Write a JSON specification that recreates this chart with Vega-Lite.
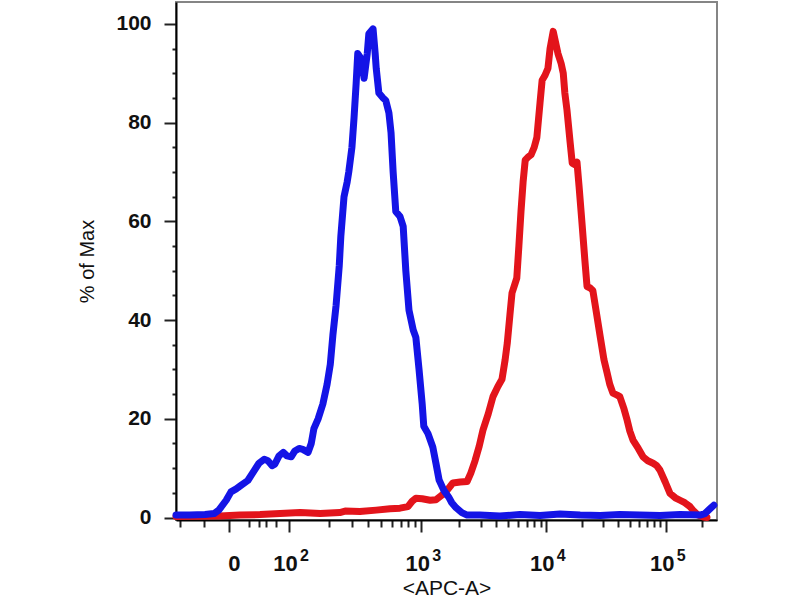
{
  "$schema": "https://vega.github.io/schema/vega-lite/v6.json",
  "width": 541,
  "height": 518,
  "autosize": {"type": "none"},
  "padding": {"left": 176, "top": 2, "right": 83, "bottom": 80},
  "background": "white",
  "config": {
    "view": {"stroke": "#858585", "strokeWidth": 2},
    "font": "Liberation Sans"
  },
  "resolve": {"axis": {"x": "independent"}},
  "datasets": {
    "red": [
      {"channel": 0, "pct": 0.2}, {"channel": 83, "pct": 0.3}, {"channel": 121, "pct": 0.5}, {"channel": 159, "pct": 0.6},
      {"channel": 197, "pct": 0.8}, {"channel": 235, "pct": 1.0}, {"channel": 273, "pct": 0.8}, {"channel": 310, "pct": 1.0},
      {"channel": 320, "pct": 1.3}, {"channel": 348, "pct": 1.2}, {"channel": 379, "pct": 1.5}, {"channel": 405, "pct": 1.8},
      {"channel": 424, "pct": 1.9}, {"channel": 439, "pct": 2.2}, {"channel": 447, "pct": 3.3}, {"channel": 454, "pct": 3.9},
      {"channel": 466, "pct": 3.8}, {"channel": 481, "pct": 3.5}, {"channel": 492, "pct": 3.6}, {"channel": 503, "pct": 4.5},
      {"channel": 513, "pct": 5.5}, {"channel": 524, "pct": 7.0}, {"channel": 538, "pct": 7.2}, {"channel": 551, "pct": 7.3},
      {"channel": 558, "pct": 9.0}, {"channel": 566, "pct": 11.5}, {"channel": 574, "pct": 14.5}, {"channel": 581, "pct": 17.7},
      {"channel": 591, "pct": 21.0}, {"channel": 600, "pct": 24.5}, {"channel": 609, "pct": 26.5}, {"channel": 617, "pct": 28.0},
      {"channel": 623, "pct": 32.0}, {"channel": 627, "pct": 35.3}, {"channel": 632, "pct": 41.0}, {"channel": 636, "pct": 45.5},
      {"channel": 642, "pct": 47.5}, {"channel": 645, "pct": 48.5}, {"channel": 649, "pct": 55.0}, {"channel": 653, "pct": 62.0},
      {"channel": 657, "pct": 68.0}, {"channel": 661, "pct": 72.4}, {"channel": 666, "pct": 73.0}, {"channel": 672, "pct": 73.5},
      {"channel": 678, "pct": 75.0}, {"channel": 683, "pct": 77.0}, {"channel": 689, "pct": 84.0}, {"channel": 693, "pct": 88.6},
      {"channel": 698, "pct": 89.5}, {"channel": 704, "pct": 91.0}, {"channel": 708, "pct": 95.0}, {"channel": 714, "pct": 98.5},
      {"channel": 719, "pct": 96.0}, {"channel": 723, "pct": 94.0}, {"channel": 729, "pct": 92.0}, {"channel": 733, "pct": 90.0},
      {"channel": 736, "pct": 86.0}, {"channel": 740, "pct": 82.6}, {"channel": 746, "pct": 76.0}, {"channel": 750, "pct": 71.8},
      {"channel": 755, "pct": 71.5}, {"channel": 759, "pct": 72.0}, {"channel": 763, "pct": 67.0}, {"channel": 768, "pct": 60.3},
      {"channel": 774, "pct": 52.0}, {"channel": 778, "pct": 46.8}, {"channel": 784, "pct": 46.5}, {"channel": 789, "pct": 46.0},
      {"channel": 795, "pct": 42.0}, {"channel": 803, "pct": 36.6}, {"channel": 810, "pct": 32.0}, {"channel": 816, "pct": 29.3},
      {"channel": 821, "pct": 27.0}, {"channel": 827, "pct": 25.2}, {"channel": 835, "pct": 24.8}, {"channel": 840, "pct": 24.5},
      {"channel": 848, "pct": 22.0}, {"channel": 854, "pct": 19.7}, {"channel": 859, "pct": 17.5}, {"channel": 865, "pct": 15.7},
      {"channel": 875, "pct": 14.0}, {"channel": 884, "pct": 12.3}, {"channel": 893, "pct": 11.5}, {"channel": 903, "pct": 11.0},
      {"channel": 910, "pct": 10.5}, {"channel": 916, "pct": 9.6}, {"channel": 926, "pct": 7.2}, {"channel": 935, "pct": 4.9},
      {"channel": 945, "pct": 4.0}, {"channel": 954, "pct": 3.5}, {"channel": 963, "pct": 3.0}, {"channel": 973, "pct": 2.2},
      {"channel": 980, "pct": 1.3}, {"channel": 988, "pct": 0.5}, {"channel": 998, "pct": 0.1}, {"channel": 1005, "pct": 0.0}
    ],
    "blue": [
      {"channel": 0, "pct": 0.5}, {"channel": 26, "pct": 0.5}, {"channel": 55, "pct": 0.6}, {"channel": 72, "pct": 0.8},
      {"channel": 81, "pct": 1.5}, {"channel": 95, "pct": 3.5}, {"channel": 104, "pct": 5.2}, {"channel": 114, "pct": 5.8},
      {"channel": 123, "pct": 6.5}, {"channel": 136, "pct": 7.5}, {"channel": 148, "pct": 9.5}, {"channel": 157, "pct": 11.0},
      {"channel": 167, "pct": 11.8}, {"channel": 174, "pct": 11.5}, {"channel": 182, "pct": 10.5}, {"channel": 187, "pct": 10.8},
      {"channel": 195, "pct": 12.5}, {"channel": 203, "pct": 13.2}, {"channel": 210, "pct": 12.5}, {"channel": 218, "pct": 12.3},
      {"channel": 225, "pct": 13.5}, {"channel": 233, "pct": 14.0}, {"channel": 240, "pct": 13.8}, {"channel": 250, "pct": 13.2},
      {"channel": 256, "pct": 15.0}, {"channel": 261, "pct": 18.0}, {"channel": 269, "pct": 20.0}, {"channel": 278, "pct": 23.0},
      {"channel": 286, "pct": 27.0}, {"channel": 292, "pct": 31.0}, {"channel": 297, "pct": 37.0}, {"channel": 303, "pct": 43.0},
      {"channel": 309, "pct": 51.0}, {"channel": 312, "pct": 57.0}, {"channel": 318, "pct": 65.0}, {"channel": 324, "pct": 68.0},
      {"channel": 327, "pct": 70.0}, {"channel": 333, "pct": 75.0}, {"channel": 337, "pct": 81.0}, {"channel": 341, "pct": 88.0},
      {"channel": 344, "pct": 94.0}, {"channel": 350, "pct": 93.0}, {"channel": 356, "pct": 89.0}, {"channel": 362, "pct": 94.0},
      {"channel": 365, "pct": 98.0}, {"channel": 373, "pct": 99.0}, {"channel": 377, "pct": 94.0}, {"channel": 379, "pct": 91.0},
      {"channel": 384, "pct": 86.0}, {"channel": 392, "pct": 85.0}, {"channel": 397, "pct": 84.5}, {"channel": 403, "pct": 82.0},
      {"channel": 407, "pct": 78.0}, {"channel": 411, "pct": 70.0}, {"channel": 416, "pct": 62.0}, {"channel": 424, "pct": 61.0},
      {"channel": 430, "pct": 59.0}, {"channel": 435, "pct": 50.0}, {"channel": 441, "pct": 42.0}, {"channel": 449, "pct": 38.0},
      {"channel": 454, "pct": 36.5}, {"channel": 460, "pct": 30.0}, {"channel": 466, "pct": 23.0}, {"channel": 469, "pct": 18.5},
      {"channel": 477, "pct": 17.0}, {"channel": 486, "pct": 14.3}, {"channel": 492, "pct": 11.0}, {"channel": 498, "pct": 7.6},
      {"channel": 507, "pct": 5.5}, {"channel": 517, "pct": 4.0}, {"channel": 522, "pct": 3.0}, {"channel": 530, "pct": 2.0},
      {"channel": 541, "pct": 1.0}, {"channel": 551, "pct": 0.5}, {"channel": 575, "pct": 0.5}, {"channel": 613, "pct": 0.3},
      {"channel": 651, "pct": 0.6}, {"channel": 689, "pct": 0.4}, {"channel": 727, "pct": 0.7}, {"channel": 765, "pct": 0.5},
      {"channel": 803, "pct": 0.4}, {"channel": 840, "pct": 0.6}, {"channel": 878, "pct": 0.5}, {"channel": 916, "pct": 0.4},
      {"channel": 954, "pct": 0.6}, {"channel": 992, "pct": 0.5}, {"channel": 1001, "pct": 0.8}, {"channel": 1011, "pct": 1.8},
      {"channel": 1018, "pct": 2.5}
    ]
  },
  "encoding": {
    "y": {
      "field": "pct",
      "type": "quantitative",
      "scale": {"domain": [-0.5, 104.45], "nice": false, "zero": false},
      "axis": {
        "title": "% of Max",
        "titleFont": "Liberation Sans",
        "titleFontSize": 20,
        "titleFontWeight": "normal",
        "titleColor": "#111",
        "titlePadding": 18,
        "values": [0, 5, 10, 15, 20, 25, 30, 35, 40, 45, 50, 55, 60, 65, 70, 75, 80, 85, 90, 95, 100],
        "labelExpr": "datum.value % 20 == 0 ? datum.label : ''",
        "labelFont": "Liberation Sans",
        "labelFontSize": 21,
        "labelFontWeight": "bold",
        "labelColor": "#111",
        "labelPadding": 13,
        "labelFlush": false,
        "labelOverlap": false,
        "domainColor": "#000",
        "domainWidth": 2,
        "tickColor": "#222",
        "tickWidth": 2,
        "tickSize": {"condition": {"test": "datum.value % 20 == 0", "value": 12}, "value": 4},
        "grid": false
      }
    }
  },
  "layer": [
    {
      "data": {"name": "red"},
      "mark": {"type": "line", "color": "#e3141b", "strokeWidth": 7, "strokeJoin": "round", "strokeCap": "round"},
      "encoding": {
        "x": {
          "field": "channel",
          "type": "quantitative",
          "scale": {"domain": [0, 1024], "nice": false, "zero": false},
          "axis": {
            "orient": "bottom",
            "title": "<APC-A>",
            "titleFont": "Liberation Sans",
            "titleFontSize": 21,
            "titleFontWeight": "normal",
            "titleColor": "#111",
            "titlePadding": 3,
            "values": [8, 53, 100, 138, 157, 170, 189, 214, 289, 333, 364, 388, 408, 425, 440, 452, 464, 535, 577, 606, 629, 648, 664, 677, 690, 700, 769, 809, 837, 859, 877, 892, 905, 917, 927, 996],
            "labelExpr": "datum.value == 100 ? '0' : indexof([214,464,700,927], datum.value) >= 0 ? '10' : ''",
            "labelOverlap": false,
            "labelFont": "Liberation Sans",
            "labelFontSize": 22,
            "labelFontWeight": "bold",
            "labelColor": "#111",
            "labelPadding": 21,
            "labelOffset": {"condition": {"test": "datum.value == 100", "value": 5}, "value": -4},
            "labelFlush": false,
            "domainColor": "#000",
            "domainWidth": 2,
            "tickColor": "#222",
            "tickWidth": 2,
            "tickSize": {"condition": {"test": "indexof([100,214,464,700,927], datum.value) >= 0", "value": 12}, "value": 7},
            "grid": false
          }
        }
      }
    },
    {
      "data": {"name": "blue"},
      "mark": {"type": "line", "color": "#1414e6", "strokeWidth": 7, "strokeJoin": "round", "strokeCap": "round"},
      "encoding": {
        "x": {
          "field": "channel",
          "type": "quantitative",
          "axis": {
            "orient": "bottom",
            "title": null,
            "domain": false,
            "ticks": true,
            "tickSize": 0,
            "tickOpacity": 0,
            "values": [214, 464, 700, 927],
            "labelExpr": "datum.value == 214 ? '2' : datum.value == 464 ? '3' : datum.value == 700 ? '4' : '5'",
            "labelOverlap": false,
            "labelFont": "Liberation Sans",
            "labelFontSize": 16,
            "labelFontWeight": "bold",
            "labelColor": "#111",
            "labelPadding": 27,
            "labelOffset": 15,
            "labelFlush": false,
            "grid": false
          }
        }
      }
    }
  ]
}
